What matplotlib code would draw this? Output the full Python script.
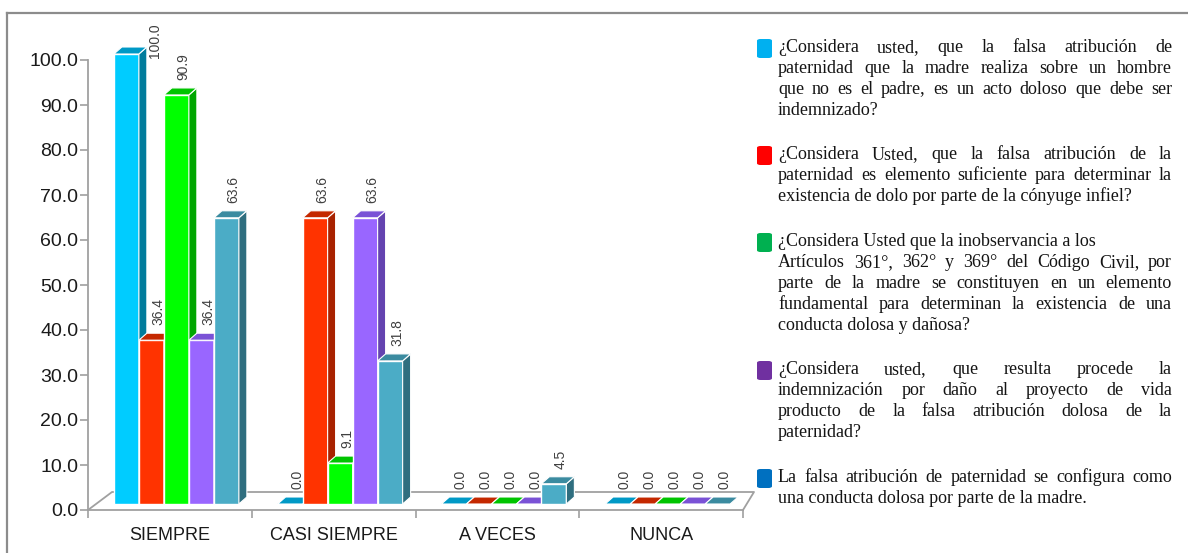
import matplotlib
matplotlib.use("Agg")
import matplotlib.pyplot as plt
import numpy as np
from matplotlib.lines import Line2D
from matplotlib.patches import FancyBboxPatch, Polygon, Rectangle

# --- data ------------------------------------------------------------
CATEGORIES = ["SIEMPRE", "CASI SIEMPRE", "A VECES", "NUNCA"]
Q1 = [100.0, 0.0, 0.0, 0.0]
Q2 = [36.4, 63.6, 0.0, 0.0]
Q3 = [90.9, 9.1, 0.0, 0.0]
Q4 = [36.4, 63.6, 0.0, 0.0]
Q5 = [63.6, 31.8, 4.5, 0.0]
SERIES = [Q1, Q2, Q3, Q4, Q5]
Y_TICKS = np.arange(0, 101, 10)

# legend paragraphs: (line, justified?)
LEGEND_PARAS = [
    [("¿Considera usted, que la falsa atribución de", True),
     ("paternidad que la madre realiza sobre un hombre", True),
     ("que no es el padre, es un acto doloso que debe ser", True),
     ("indemnizado?", False)],
    [("¿Considera Usted, que la falsa atribución de la", True),
     ("paternidad es elemento suficiente para determinar la", True),
     ("existencia de dolo por parte de la cónyuge infiel?", False)],
    [("¿Considera Usted que la inobservancia a los", False),
     ("Artículos 361°, 362° y 369° del Código Civil, por", True),
     ("parte de la madre se constituyen en un elemento", True),
     ("fundamental para determinan la existencia de una", True),
     ("conducta dolosa y dañosa?", False)],
    [("¿Considera usted, que resulta procede la", True),
     ("indemnización por daño al proyecto de vida", True),
     ("producto de la falsa atribución  dolosa de la", True),
     ("paternidad?", False)],
    [("La falsa atribución de paternidad se configura como", True),
     ("una conducta dolosa por parte de la madre.", False)],
]

# --- styles ----------------------------------------------------------
FRONT = ["#00CCFF", "#FF3300", "#00FF00", "#9966FF", "#4BACC6"]
SIDE = ["#007C9C", "#A82200", "#00A600", "#6443B0", "#2F6E7F"]
TOP = ["#0099C6", "#C42800", "#00C400", "#7A52D6", "#3B8BA0"]
LEGEND_COLORS = ["#00B0F0", "#FF0000", "#00B050", "#7030A0", "#0070C0"]
AXIS_GRAY = "#A0A0A0"

W, H = 1188, 553


def fx(px):
    return px / W


def fy(py):
    return 1 - py / H


fig = plt.figure(figsize=(W / 100, H / 100), dpi=100)
fig.patch.set_facecolor("white")

# outer frame (only top and left edges visible)
fig.add_artist(Line2D([fx(7), 1], [fy(13), fy(13)], color="#8C8C8C", lw=1.6))
fig.add_artist(Line2D([fx(7), fx(7)], [fy(13), 0], color="#8C8C8C", lw=1.6))

ax = fig.add_axes([fx(88), 1 - 510 / H, 655 / W, 450 / H])
ax.set_xlim(-0.5, 3.5)
ax.set_ylim(0, 100)
for s in ["top", "right"]:
    ax.spines[s].set_visible(False)
for s in ["left", "bottom"]:
    ax.spines[s].set_color(AXIS_GRAY)
    ax.spines[s].set_linewidth(1.3)

px_x = 655 / 4.0          # pixels per category
px_y = 4.5                # pixels per y unit
w = 25 / px_x             # bar width
ddx, ddy = 8 / px_x, 7 / px_y   # bar depth
shift_x, base = 6.5 / px_x, 6 / px_y

# floor
fl, fr, fb = 24 / px_x, 11 / px_x, 18 / px_y
ax.plot([-0.5, -0.5 + fl, 3.5 + fr, 3.5], [0, fb, fb, 0],
        color=AXIS_GRAY, lw=1.3, clip_on=False, zorder=1)

n = len(SERIES)
for j in range(len(CATEGORIES)):
    for i, vals in enumerate(SERIES):
        v = vals[j]
        xl = j + (i - n / 2) * w + shift_x
        z = 3 + i
        ax.add_patch(Rectangle((xl, base), w, v, facecolor=FRONT[i],
                               edgecolor="white", lw=1.0, clip_on=False, zorder=z))
        ax.add_patch(Polygon([(xl + w, base), (xl + w + ddx, base + ddy),
                              (xl + w + ddx, base + v + ddy), (xl + w, base + v)],
                             closed=True, facecolor=SIDE[i], edgecolor="white",
                             lw=0.8, clip_on=False, zorder=z))
        ax.add_patch(Polygon([(xl, base + v), (xl + ddx, base + v + ddy),
                              (xl + w + ddx, base + v + ddy), (xl + w, base + v)],
                             closed=True, facecolor=TOP[i], edgecolor="white",
                             lw=0.8, clip_on=False, zorder=z))
        ly = base + v + ddy + 1.8
        lx = xl + w / 2 + 7 / px_x
        if ly > 100.4:
            ly = 100.4
            lx = xl + w + ddx + 8 / px_x
        ax.text(lx, ly, f"{v:.1f}", rotation=90, ha="center", va="bottom",
                fontsize=10, family="Liberation Sans", color="#404040",
                zorder=20)

ax.set_yticks(Y_TICKS)
ax.set_yticklabels([f"{t:.1f}" for t in Y_TICKS], family="Liberation Sans",
                   fontsize=14, color="#1A1A1A")
ax.tick_params(axis="y", direction="out", length=6, width=1.2,
               color=AXIS_GRAY, pad=1)
ax.set_xticks(np.arange(-0.5, 3.6, 1.0))
ax.set_xticklabels([])
ax.tick_params(axis="x", which="major", direction="out", length=6, width=1.2,
               color=AXIS_GRAY)
ax.set_xticks(np.arange(len(CATEGORIES)), minor=True)
ax.set_xticklabels(CATEGORIES, minor=True, family="Liberation Sans",
                   fontsize=13, color="#1A1A1A")
ax.tick_params(axis="x", which="minor", length=0, pad=12)
ax.set_facecolor("none")

# --- legend (justified serif text) ------------------------------------
renderer = fig.canvas.get_renderer()
text_left, text_right = 778, 1172
baselines = [52, 159, 246, 374, 482]
line_h = 21
font = dict(family="Liberation Serif", fontsize=13, color="#141414")

for p, para in enumerate(LEGEND_PARAS):
    b0 = baselines[p]
    fig.add_artist(FancyBboxPatch((fx(757), fy(b0 + 6)), 15 / W, 19 / H,
                                  boxstyle="round,pad=0,rounding_size=0.003",
                                  transform=fig.transFigure,
                                  facecolor=LEGEND_COLORS[p], edgecolor="none"))
    for k, (line, just) in enumerate(para):
        yb = fy(b0 + k * line_h)
        if not just:
            fig.text(fx(text_left), yb, line, va="baseline", ha="left", **font)
            continue
        words = line.split()
        objs = [fig.text(0, yb, wd, va="baseline", ha="left", **font)
                for wd in words]
        widths = [o.get_window_extent(renderer).width for o in objs]
        gap = (text_right - text_left - sum(widths)) / (len(words) - 1)
        x = text_left
        for o, wdt in zip(objs, widths):
            o.set_x(fx(x))
            x += wdt + gap

fig.savefig("out.png", dpi=100, facecolor="white")
